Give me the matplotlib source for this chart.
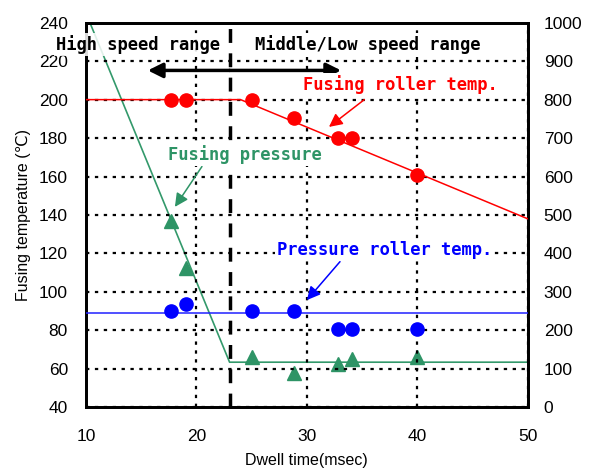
import numpy as np
import matplotlib.pyplot as plt

#==================data==================
dwell = [17.7, 19.1, 25.0, 28.8, 32.8, 34.1, 40.0]             # msec
fuser_temp = [200, 200, 200, 190.5, 180, 180, 161]             # degC
press_roller_temp = [90, 93.5, 90, 90, 80.5, 80.5, 80.5]       # degC
pressure = [485, 362, 131, 90, 112, 125, 130]                  # right axis

# trend lines
fuser_line_x = [10, 24, 50]
fuser_line_y = [200, 200, 138]
pr_line_x = [10, 50]
pr_line_y = [89, 89]
press_line_x = [10, 23, 50]
press_line_y = [1025, 117, 117]

boundary = 23  # high / middle-low speed border

#==================plot==================
plt.rcParams['font.family'] = ['Liberation Sans', 'DejaVu Sans', 'Noto Sans CJK JP']
fig, ax = plt.subplots(figsize=(5.89, 4.74), dpi=100)
fig.subplots_adjust(left=0.146, right=0.896, bottom=0.141, top=0.952)
ax2 = ax.twinx()
ax.set_zorder(ax2.get_zorder() + 1)
ax.patch.set_visible(False)

ax.set_xlim(10, 50)
ax.set_ylim(40, 240)
ax2.set_ylim(0, 1000)
ax.set_xticks(np.arange(10, 51, 10))
ax.set_yticks(np.arange(40, 241, 20))
ax2.set_yticks(np.arange(0, 1001, 100))

ax.grid(True, color="black", linestyle=(0, (1.5, 2.5)), linewidth=1.6, zorder=0)
ax.set_axisbelow(True)

for a in (ax, ax2):
    for s in a.spines.values():
        s.set_linewidth(2)
ax.tick_params(axis="both", length=0, labelsize=12.5)
ax.tick_params(axis="y", pad=13)
ax.tick_params(axis="x", pad=16)
ax2.tick_params(axis="y", length=0, labelsize=12.5, pad=11.5)

# boundary line
ax.axvline(boundary, color="black", linestyle=(0, (4, 3)), linewidth=2.5, zorder=2)

# fusing roller temp (red)
ax.plot(fuser_line_x, fuser_line_y, color="red", linewidth=1.1, zorder=3)
ax.plot(dwell, fuser_temp, "o", color="red", markersize=9.5, zorder=4)

# pressure roller temp (blue)
ax.plot(pr_line_x, pr_line_y, color="#2020ff", linewidth=1.1, zorder=3)
ax.plot(dwell, press_roller_temp, "o", color="blue", markersize=9.5, zorder=4)

# fusing pressure (green, right axis)
ax2.plot(press_line_x, press_line_y, color="#33996b", linewidth=1.2)
ax2.plot(dwell, pressure, "^", color="#2e9466", markersize=10)

# texts
tfont = dict(family="DejaVu Sans Mono", fontweight="bold", fontsize=12.3)
box = dict(facecolor="white", edgecolor="none", pad=1.5)
ax.text(14.7, 228.5, "High speed range", ha="center", va="center", color="black",
        bbox=dict(facecolor="white", edgecolor="none", pad=1.5, alpha=0.85), zorder=6, **tfont)
ax.text(35.5, 228.5, "Middle/Low speed range", ha="center", va="center", color="black",
        bbox=box, zorder=6, **tfont)

# speed range arrows
ax.annotate("", xy=(15.6, 215.2), xytext=(boundary, 215.2),
            arrowprops=dict(arrowstyle="-|>", color="black", lw=2.5, mutation_scale=22,
                            shrinkA=0, shrinkB=0), zorder=5)
ax.annotate("", xy=(33.1, 215.2), xytext=(boundary, 215.2),
            arrowprops=dict(arrowstyle="-|>", color="black", lw=2.5, mutation_scale=22,
                            shrinkA=0, shrinkB=0), zorder=5)

ax.text(38.5, 207.7, "Fusing roller temp.", ha="center", va="center", color="red",
        bbox=box, zorder=6, **tfont)
ax.annotate("", xy=(32.0, 185.8), xytext=(35.2, 200.0),
            arrowprops=dict(arrowstyle="-|>", color="red", lw=1.1, mutation_scale=20,
                            shrinkA=0, shrinkB=0), zorder=5)

ax.text(24.4, 171.3, "Fusing pressure", ha="center", va="center", color="#2e9466",
        bbox=box, zorder=6, **tfont)
ax.annotate("", xy=(18.05, 144.2), xytext=(20.5, 165.2),
            arrowprops=dict(arrowstyle="-|>", color="#2e9466", lw=1.1, mutation_scale=20,
                            shrinkA=0, shrinkB=0), zorder=5)

ax.text(37.0, 121.8, "Pressure roller temp.", ha="center", va="center", color="blue",
        bbox=box, zorder=6, **tfont)
ax.annotate("", xy=(30.0, 95.7), xytext=(33.0, 115.7),
            arrowprops=dict(arrowstyle="-|>", color="blue", lw=1.1, mutation_scale=20,
                            shrinkA=0, shrinkB=0), zorder=5)

ax.set_xlabel("Dwell time(msec)", fontsize=11.5, labelpad=6)
ax.set_ylabel("Fusing temperature (\u2103)", fontsize=11.5, labelpad=6)

fig.savefig("out.png", dpi=100)
